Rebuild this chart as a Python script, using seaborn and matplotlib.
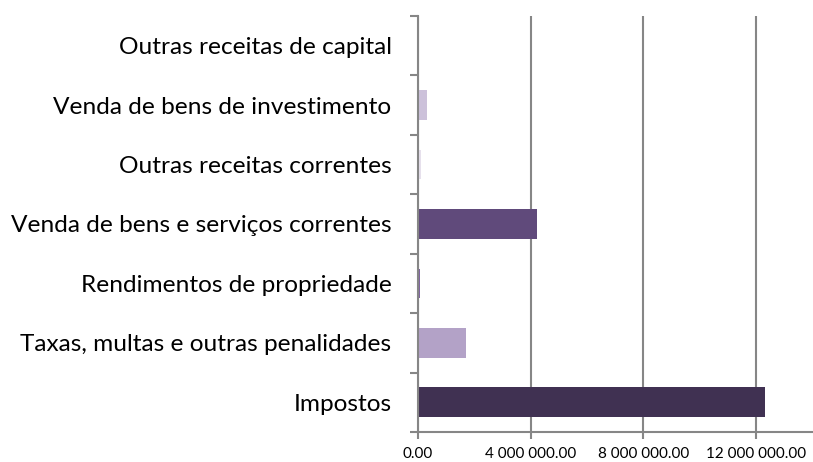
import matplotlib
matplotlib.use("Agg")
import matplotlib.pyplot as plt
import seaborn as sns
import pandas as pd
from matplotlib.ticker import FuncFormatter, FixedLocator

categories = [
    "Outras receitas de capital",
    "Venda de bens de investimento",
    "Outras receitas correntes",
    "Venda de bens e serviços correntes",
    "Rendimentos de propriedade",
    "Taxas, multas e outras penalidades",
    "Impostos",
]
values = [0, 320000, 120000, 4240000, 60000, 1700000, 12330000]
colors = ["#8064a2", "#ccc1da", "#e6e0ec", "#604a7b", "#8064a2", "#b3a2c7", "#403152"]

df = pd.DataFrame({"categoria": categories, "valor": values})

sns.set_theme(style="white")
plt.rcParams["font.family"] = ["Lato", "DejaVu Sans"]

fig = plt.figure(figsize=(8.13, 4.62), dpi=100)
ax = fig.add_axes([418 / 813, 30 / 462, 394 / 813, 416 / 462])

sns.barplot(data=df, x="valor", y="categoria", hue="categoria", order=categories,
            hue_order=categories, palette=dict(zip(categories, colors)),
            orient="h", width=0.5, legend=False, ax=ax, saturation=1,
            linewidth=0)

grid_c = "#868686"
ax.set_xlim(0, 14000000)
ax.set_ylim(len(categories) - 0.5, -0.5)
ax.xaxis.set_major_locator(FixedLocator([0, 4000000, 8000000, 12000000]))


def fmt(v, pos):
    return f"{v:,.2f}".replace(",", " ")


ax.xaxis.set_major_formatter(FuncFormatter(fmt))
ax.grid(axis="x", color=grid_c, linewidth=1.5)
ax.set_axisbelow(True)
for s in ["top", "right"]:
    ax.spines[s].set_visible(False)
for s in ["left", "bottom"]:
    ax.spines[s].set_color(grid_c)
    ax.spines[s].set_linewidth(1.5)

ax.set_xlabel("")
ax.set_ylabel("")
ax.tick_params(axis="x", which="major", direction="out", length=5, width=1.5,
               color=grid_c, labelsize=11, labelcolor="#000000", pad=6,
               bottom=True)
ax.tick_params(axis="y", which="major", length=0, pad=19, labelsize=17.6,
               labelcolor="#000000")
ax.yaxis.set_minor_locator(FixedLocator([i - 0.5 for i in range(len(categories) + 1)]))
ax.tick_params(axis="y", which="minor", direction="out", length=6, width=1.5,
               color=grid_c, left=True)

fig.savefig("out.png", dpi=100)
